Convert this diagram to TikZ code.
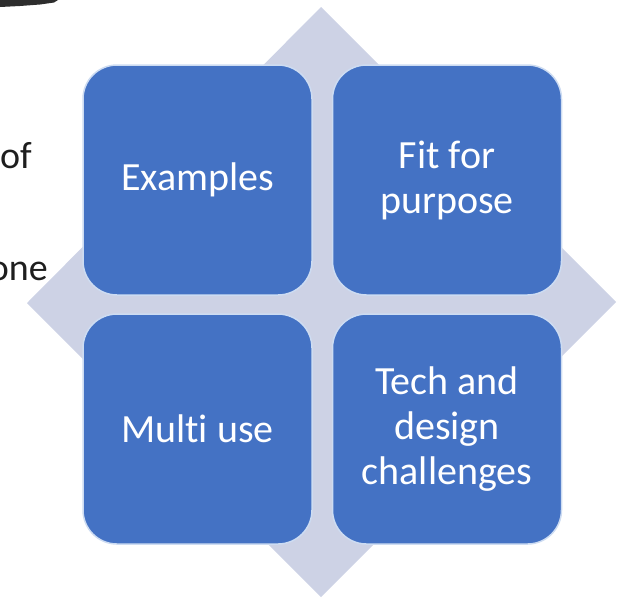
\documentclass[tikz,border=0pt]{standalone}
\usepackage{fontspec}
\setmainfont{Carlito}[Ligatures=NoCommon]
\definecolor{boxblue}{RGB}{68,114,196}
\definecolor{boxline}{RGB}{205,220,242}
\definecolor{diamondgray}{RGB}{205,210,229}
\definecolor{strokedark}{RGB}{45,45,45}
\definecolor{bodytext}{RGB}{30,30,30}
\tikzset{
  quad/.style={draw=boxline, line width=1.5pt, fill=boxblue, text=white,
    rounded corners=34pt, minimum width=229pt, minimum height=230pt,
    inner sep=0pt, align=center, font=\fontsize{40}{45}\selectfont},
  sidetext/.style={text=bodytext, inner sep=0pt, font=\fontsize{38}{46}\selectfont}
}
\begin{document}
\begin{tikzpicture}[x=1pt,y=-1pt]
\useasboundingbox (0,0) rectangle (617,598);
\clip (0,0) rectangle (617,598);
% dark stroke fragment at top-left
\fill[strokedark] (0,0) -- (58,0) -- (54,2.5) -- (40,4.5) -- (20,6) -- (0,7) -- cycle;
% side text fragments
\node[sidetext, anchor=base east] (of) at (32,168) {of};
\node[sidetext, anchor=base east] (one) at (48,280) {one};
% background diamond
\coordinate (dT) at (321,7);
\coordinate (dR) at (616,302);
\coordinate (dB) at (321,597);
\coordinate (dL) at (27,303);
\fill[diamondgray] (dT) -- (dR) -- (dB) -- (dL) -- cycle;
% four quadrants
\node[quad] (ex) at (197.5,180) {Examples};
\node[quad] (fit) at (447,180) {Fit for\\purpose};
\node[quad] (multi) at (197.5,429) {Multi use};
\node[quad] (tech) at (447,429) {Tech and\\design\\challenges};
\end{tikzpicture}
\end{document}
